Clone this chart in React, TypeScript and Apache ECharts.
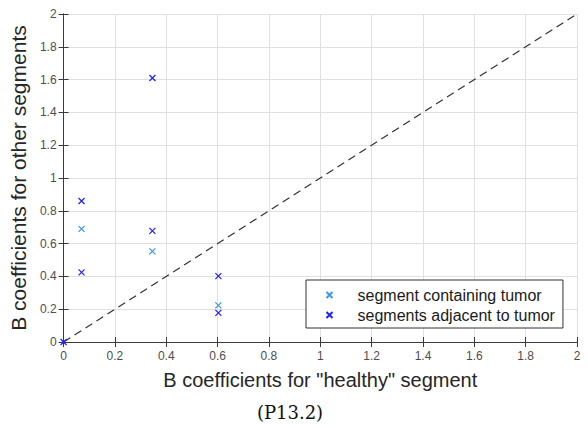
import React, { useEffect, useRef } from "react";
import * as echarts from "echarts";

const tumorPoints: number[][] = [
  [0.07, 0.69],
  [0.346, 0.553],
  [0.603, 0.223],
];
const adjacentPoints: number[][] = [
  [0.0, 0.0],
  [0.07, 0.86],
  [0.07, 0.425],
  [0.346, 1.61],
  [0.346, 0.678],
  [0.603, 0.402],
  [0.603, 0.178],
];
const diagonal: number[][] = [
  [0, 0],
  [2, 2],
];
const seriesNames = ["segment containing tumor", "segments adjacent to tumor"];
const xTitle = 'B coefficients for "healthy" segment';
const yTitle = "B coefficients for other segments";
const caption = "(P13.2)";

const X_SYMBOL = "path://M0,0L10,10M10,0L0,10";
const FONT = "'Liberation Sans', Arial, Helvetica, sans-serif";

export default function App() {
  const ref = useRef<HTMLDivElement>(null);
  useEffect(() => {
    if (!ref.current) return;
    const chart = echarts.init(ref.current, undefined, { renderer: "svg" });
    const axisColor = "#3a3a3a";
    const baseAxis = {
      type: "value" as const,
      min: 0,
      max: 2,
      interval: 0.2,
      axisLine: { show: true, lineStyle: { color: axisColor, width: 1 } },
      axisTick: { show: true, inside: true, length: 5, lineStyle: { color: axisColor } },
    };
    chart.setOption({
      animation: false,
      backgroundColor: "#ffffff",
      grid: { left: 63, right: 10, top: 14, bottom: 86, containLabel: false },
      xAxis: [
        {
          ...baseAxis,
          position: "bottom",
          axisLabel: { color: "#4d4d4d", fontSize: 12, fontFamily: FONT, margin: 8 },
          splitLine: { show: true, lineStyle: { color: "#e0e0e0", width: 1 } },
          name: xTitle,
          nameLocation: "middle",
          nameGap: 28,
          nameTextStyle: { color: "#262626", fontSize: 20, fontFamily: FONT },
        },
        {
          ...baseAxis,
          position: "top",
          axisLabel: { show: false },
          splitLine: { show: false },
        },
      ],
      yAxis: [
        {
          ...baseAxis,
          position: "left",
          axisLabel: { color: "#4d4d4d", fontSize: 12, fontFamily: FONT, margin: 7 },
          splitLine: { show: true, lineStyle: { color: "#e0e0e0", width: 1 } },
          name: yTitle,
          nameLocation: "middle",
          nameGap: 17,
          nameTextStyle: { color: "#262626", fontSize: 21, fontFamily: FONT },
        },
        {
          ...baseAxis,
          position: "right",
          axisLabel: { show: false },
          splitLine: { show: false },
        },
      ],
      legend: {
        orient: "vertical",
        left: 306,
        top: 280,
        data: seriesNames,
        itemWidth: 46,
        itemHeight: 6,
        itemGap: 4,
        padding: [7, 8, 5, 18],
        borderColor: "#333333",
        borderWidth: 1,
        backgroundColor: "#ffffff",
        textStyle: { color: "#1a1a1a", fontSize: 16, lineHeight: 16, fontFamily: FONT },
        selectedMode: false,
      },
      series: [
        {
          type: "line",
          data: diagonal,
          symbol: "none",
          lineStyle: { color: "#333333", width: 1.2, type: [8, 5] },
          silent: true,
          z: 1,
        },
        {
          name: seriesNames[0],
          type: "scatter",
          data: tumorPoints,
          symbol: X_SYMBOL,
          symbolSize: 6,
          symbolKeepAspect: true,
          clip: false,
          itemStyle: { color: "none", borderColor: "#3d97e6", borderWidth: 1.2, opacity: 1 },
          z: 3,
        },
        {
          name: seriesNames[1],
          type: "scatter",
          data: adjacentPoints,
          symbol: X_SYMBOL,
          symbolSize: 6,
          symbolKeepAspect: true,
          clip: false,
          itemStyle: { color: "none", borderColor: "#1f1fff", borderWidth: 1.2, opacity: 1 },
          z: 3,
        },
      ],
      graphic: [
        {
          type: "text",
          x: 290,
          y: 412,
          style: {
            text: caption,
            fill: "#111111",
            font: "18px 'DejaVu Serif', 'Liberation Serif', serif",
            align: "center",
            verticalAlign: "middle",
          },
        },
      ],
    });
    return () => chart.dispose();
  }, []);
  return (
    <div
      ref={ref}
      style={{ position: "fixed", left: 0, top: 0, width: 587, height: 428 }}
    />
  );
}
